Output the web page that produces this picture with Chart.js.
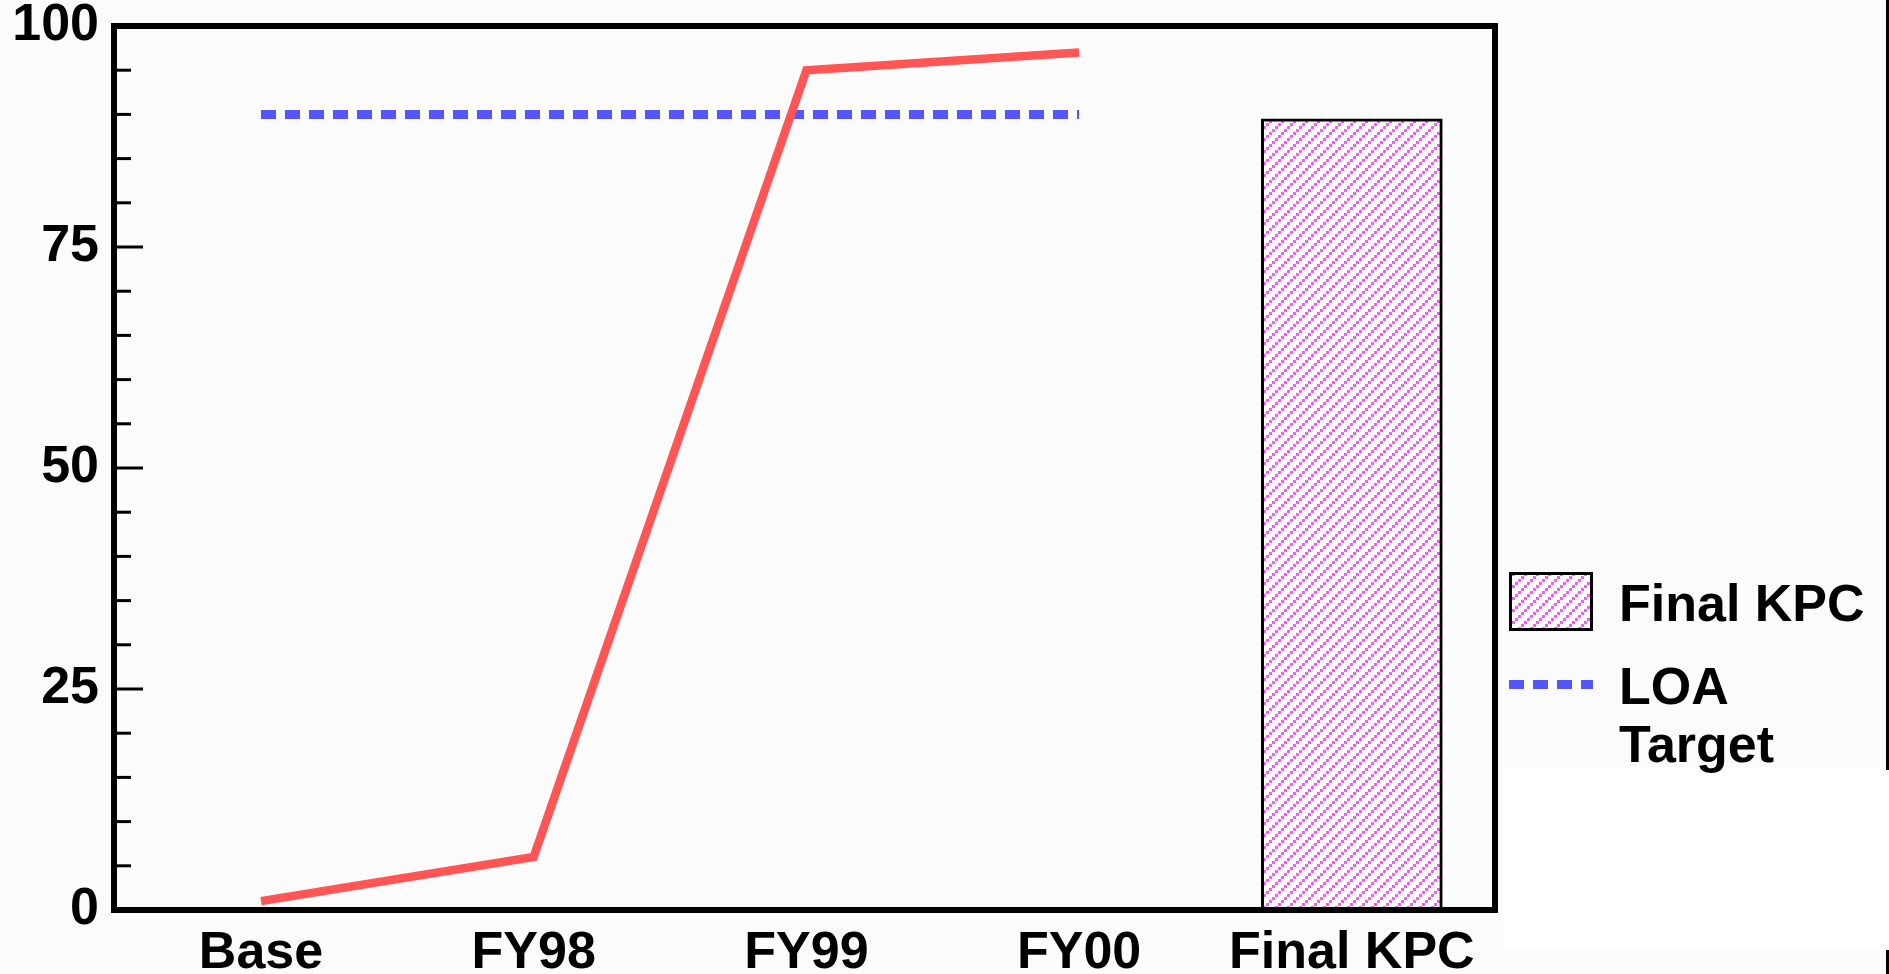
<!DOCTYPE html>
<html>
<head>
<meta charset="utf-8">
<title>KPC progress</title>
<script src="https://cdn.jsdelivr.net/npm/chart.js@4/dist/chart.umd.min.js"></script>
<style>
  html, body { margin: 0; padding: 0; background: #fbfbfb; overflow: hidden; }
  #wrap { width: 1889px; height: 974px; position: relative; }
  canvas { display: block; }
</style>
</head>
<body>
<div id="wrap"><canvas id="c" width="1889" height="974"></canvas></div>
<script>
// ---- values ----
const categories = ['Base', 'FY98', 'FY99', 'FY00', 'Final KPC'];
const kpcProgress = [1, 6, 95, 97, null];     // red line
const loaTarget   = [90, 90, 90, 90, null];   // blue dashed line
const finalKpc    = [null, null, null, null, 89.5]; // hatched bar
const yTicks      = [0, 25, 50, 75, 100];

const FONT_FAMILY = "'Liberation Sans', Arial, Helvetica, sans-serif";
const RED = '#ff5555';
const BLUE = '#5555ff';
const PINK = '#ff55ff';

const canvas = document.getElementById('c');
const ctx = canvas.getContext('2d');

// diagonal pink hatch on white
function makeHatch() {
  const t = document.createElement('canvas');
  t.width = 12; t.height = 12;
  const g = t.getContext('2d');
  g.fillStyle = '#ffffff';
  g.fillRect(0, 0, 12, 12);
  g.fillStyle = PINK;
  for (let k = 0; k < 4; k++) g.fillRect(9 - 3 * k, 3 * k, 3, 3);
  return ctx.createPattern(t, 'repeat');
}
const hatch = makeHatch();

const toPoints = arr => arr.map((y, i) => ({ x: i, y })).filter(p => p.y !== null);

// page backdrop
const backdrop = {
  id: 'backdrop',
  beforeDraw(chart) {
    const c = chart.ctx;
    c.save();
    c.fillStyle = '#fbfbfb';
    c.fillRect(0, 0, chart.width, chart.height);
    c.fillStyle = '#ffffff';
    c.fillRect(1503, 767, chart.width - 1503, 183);
    c.fillStyle = '#000000';
    c.fillRect(1886, 0, 3, 770);
    c.fillRect(1886, 950, 3, chart.height - 950);
    c.restore();
  }
};

// heavy box around the plot and inward tick marks on the value axis
const frame = {
  id: 'frame',
  afterDatasetsDraw(chart) {
    const c = chart.ctx;
    const a = chart.chartArea;
    const y = chart.scales.y;
    c.save();
    c.strokeStyle = '#000';
    c.lineWidth = 3;
    const majors = y.ticks.map(t => t.value);
    for (let i = 0; i < majors.length; i++) {
      const v0 = majors[i];
      const p = y.getPixelForValue(v0);
      c.beginPath(); c.moveTo(a.left, p); c.lineTo(a.left + 29, p); c.stroke();
      if (i + 1 < majors.length) {
        const step = (majors[i + 1] - v0) / 5;
        for (let k = 1; k < 5; k++) {
          const q = y.getPixelForValue(v0 + k * step);
          c.beginPath(); c.moveTo(a.left, q); c.lineTo(a.left + 17, q); c.stroke();
        }
      }
    }
    c.lineWidth = 6;
    c.strokeRect(a.left, a.top, a.right - a.left, a.bottom - a.top);
    c.restore();
  }
};

// key to the right of the plot
const key = {
  id: 'key',
  afterDraw(chart, args, o) {
    const c = chart.ctx;
    c.save();
    c.font = `bold ${o.fontSize}px ${FONT_FAMILY}`;
    c.textBaseline = 'alphabetic';
    let cy = o.firstY;
    chart.data.datasets.filter(d => d.inKey).forEach(ds => {
      if (ds.type === 'bar') {
        c.fillStyle = ds.backgroundColor;
        c.fillRect(o.x, cy - o.swatchH / 2, o.swatchW, o.swatchH);
        c.strokeStyle = ds.borderColor;
        c.lineWidth = ds.borderWidth;
        const h = ds.borderWidth / 2;
        c.strokeRect(o.x + h, cy - o.swatchH / 2 + h, o.swatchW - 2 * h, o.swatchH - 2 * h);
      } else {
        c.strokeStyle = ds.borderColor;
        c.lineWidth = ds.borderWidth;
        c.setLineDash(ds.borderDash || []);
        c.lineCap = 'butt';
        c.beginPath(); c.moveTo(o.x, cy); c.lineTo(o.x + o.swatchW, cy); c.stroke();
        c.setLineDash([]);
      }
      // wrap label to the available width
      const words = ds.label.split(' ');
      const lines = [];
      let cur = '';
      words.forEach(w => {
        const t = cur ? cur + ' ' + w : w;
        if (c.measureText(t).width > o.maxWidth && cur) { lines.push(cur); cur = w; }
        else cur = t;
      });
      if (cur) lines.push(cur);
      c.fillStyle = '#000';
      lines.forEach((ln, i) => c.fillText(ln, o.textX, cy + o.baselineOffset + i * o.lineGap));
      cy += o.rowGap + (lines.length - 1) * o.lineGap;
    });
    c.restore();
  }
};

const tickFont = { family: FONT_FAMILY, size: 52, weight: 'bold' };

new Chart(ctx, {
  type: 'bar',
  data: {
    datasets: [
      {
        type: 'bar',
        label: 'Final KPC',
        data: toPoints(finalKpc),
        backgroundColor: hatch,
        borderColor: '#000000',
        borderWidth: 3,
        borderSkipped: false,
        barThickness: 181,
        order: 2,
        inKey: true
      },
      {
        type: 'line',
        label: 'LOA Target',
        data: toPoints(loaTarget),
        borderColor: BLUE,
        borderWidth: 9,
        borderDash: [15, 9],
        borderCapStyle: 'butt',
        pointRadius: 0,
        tension: 0,
        fill: false,
        order: 1,
        inKey: true
      },
      {
        type: 'line',
        label: 'KPC progress',
        data: toPoints(kpcProgress),
        borderColor: RED,
        borderWidth: 8.5,
        borderJoinStyle: 'miter',
        borderCapStyle: 'butt',
        pointRadius: 0,
        tension: 0,
        fill: false,
        order: 0
      }
    ]
  },
  options: {
    responsive: false,
    devicePixelRatio: 1,
    animation: false,
    events: [],
    layout: { padding: { left: 0, top: 26, right: 394, bottom: 0 } },
    scales: {
      x: {
        type: 'linear',
        offset: false,
        bounds: 'data',
        min: -0.539,
        max: 4.525,
        afterBuildTicks: s => { s.ticks = categories.map((_, i) => ({ value: i })); },
        afterFit: s => { s.height = 64; s.paddingLeft = 0; s.paddingRight = 0; },
        ticks: {
          callback: v => categories[v],
          autoSkip: false,
          maxRotation: 0,
          padding: 12,
          color: '#000',
          font: tickFont
        },
        grid: { display: false, drawTicks: false, offset: false },
        border: { display: false }
      },
      y: {
        min: 0,
        max: 100,
        afterBuildTicks: s => { s.ticks = yTicks.map(v => ({ value: v })); },
        afterFit: s => { s.width = 114; s.paddingTop = 0; s.paddingBottom = 0; },
        ticks: { padding: 15, color: '#000', font: tickFont },
        grid: { display: false, drawTicks: false },
        border: { display: false }
      }
    },
    plugins: {
      legend: { display: false },
      tooltip: { enabled: false },
      title: { display: false },
      key: {
        x: 1509, swatchW: 84, swatchH: 59,
        textX: 1619, firstY: 601.5, rowGap: 83, lineGap: 58,
        baselineOffset: 19.5, maxWidth: 266, fontSize: 52
      }
    }
  },
  plugins: [backdrop, frame, key]
});
</script>
</body>
</html>
